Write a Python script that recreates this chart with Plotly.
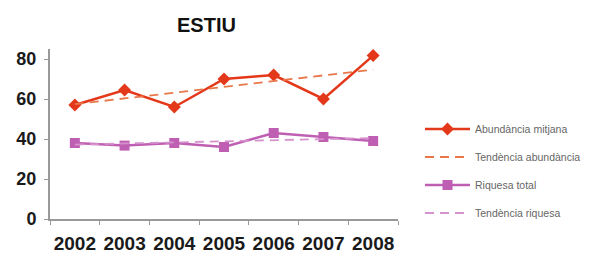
import plotly.graph_objects as go

years = ["2002", "2003", "2004", "2005", "2006", "2007", "2008"]
abundancia = [57, 64.5, 56, 70, 72, 60, 81.7]
riquesa = [38, 36.7, 38, 36, 43, 41, 39]
trend_years = ["2002", "2008"]
trend_abundancia = [57.4, 74.7]
trend_riquesa = [37.2, 40.5]
y_ticks = [0, 20, 40, 60, 80]

RED = "#E4381B"
RED_T = "#E8774A"
PUR = "#BF5FB4"
PUR_T = "#D592CD"
FONT = "Arial, Liberation Sans, sans-serif"

fig = go.Figure()
fig.add_trace(go.Scatter(x=years, y=abundancia, mode="lines+markers", name="Abundància mitjana",
                         line=dict(color=RED, width=2.5),
                         marker=dict(symbol="diamond", size=10, color=RED), legend="legend"))
fig.add_trace(go.Scatter(x=trend_years, y=trend_abundancia, mode="lines", name="Tendència abundància",
                         line=dict(color=RED_T, width=1.8, dash="9px,6px"), legend="legend2"))
fig.add_trace(go.Scatter(x=years, y=riquesa, mode="lines+markers", name="Riquesa total",
                         line=dict(color=PUR, width=2.5),
                         marker=dict(symbol="square", size=10, color=PUR), legend="legend3"))
fig.add_trace(go.Scatter(x=trend_years, y=trend_riquesa, mode="lines", name="Tendència riquesa",
                         line=dict(color=PUR_T, width=1.8, dash="9px,6px"), legend="legend4"))

L, R, T, B = 50, 398, 49, 219
W, H = 593, 253

def leg(py):
    return dict(x=(420 - L) / (R - L), xanchor="left", y=(B - py) / (B - T), yanchor="middle",
                font=dict(family=FONT, size=10.5, color="#666666"), bgcolor="rgba(0,0,0,0)",
                itemwidth=45, borderwidth=0)

fig.update_layout(
    width=W, height=H,
    margin=dict(l=L, r=W - R, t=T, b=H - B, pad=0, autoexpand=False),
    paper_bgcolor="white", plot_bgcolor="white",
    showlegend=True,
    legend=leg(129), legend2=leg(157), legend3=leg(185), legend4=leg(213),
    font=dict(family=FONT),
    xaxis=dict(type="category", categoryorder="array", categoryarray=years,
               range=[-0.5, 6.5], showline=True, linecolor="#999999", linewidth=2,
               ticks="outside", tickson="boundaries", ticklen=4, tickcolor="#999999", tickwidth=1,
               showgrid=False, zeroline=False, tickangle=0, automargin=False,
               tickfont=dict(family=FONT, size=19, color="#1a1a1a", weight="bold"),
               ticklabelstandoff=6),
    yaxis=dict(range=[0, 85], tickvals=y_ticks, showline=True, linecolor="#999999", linewidth=2,
               ticks="outside", ticklen=4, tickcolor="#999999", tickwidth=1,
               showgrid=False, zeroline=False, automargin=False,
               tickfont=dict(family=FONT, size=18, color="#1a1a1a", weight="bold"),
               ticklabelstandoff=4),
    annotations=[dict(text="<b>ESTIU</b>", xref="paper", yref="paper",
                      x=(206.5 - L) / (R - L), y=(B - 25) / (B - T),
                      xanchor="center", yanchor="middle", showarrow=False,
                      font=dict(family=FONT, size=20, color="#111111"))],
)

fig.write_html("out.html", config={"displayModeBar": False},
               post_script="document.body.style.margin='0';document.body.style.overflow='hidden';")
